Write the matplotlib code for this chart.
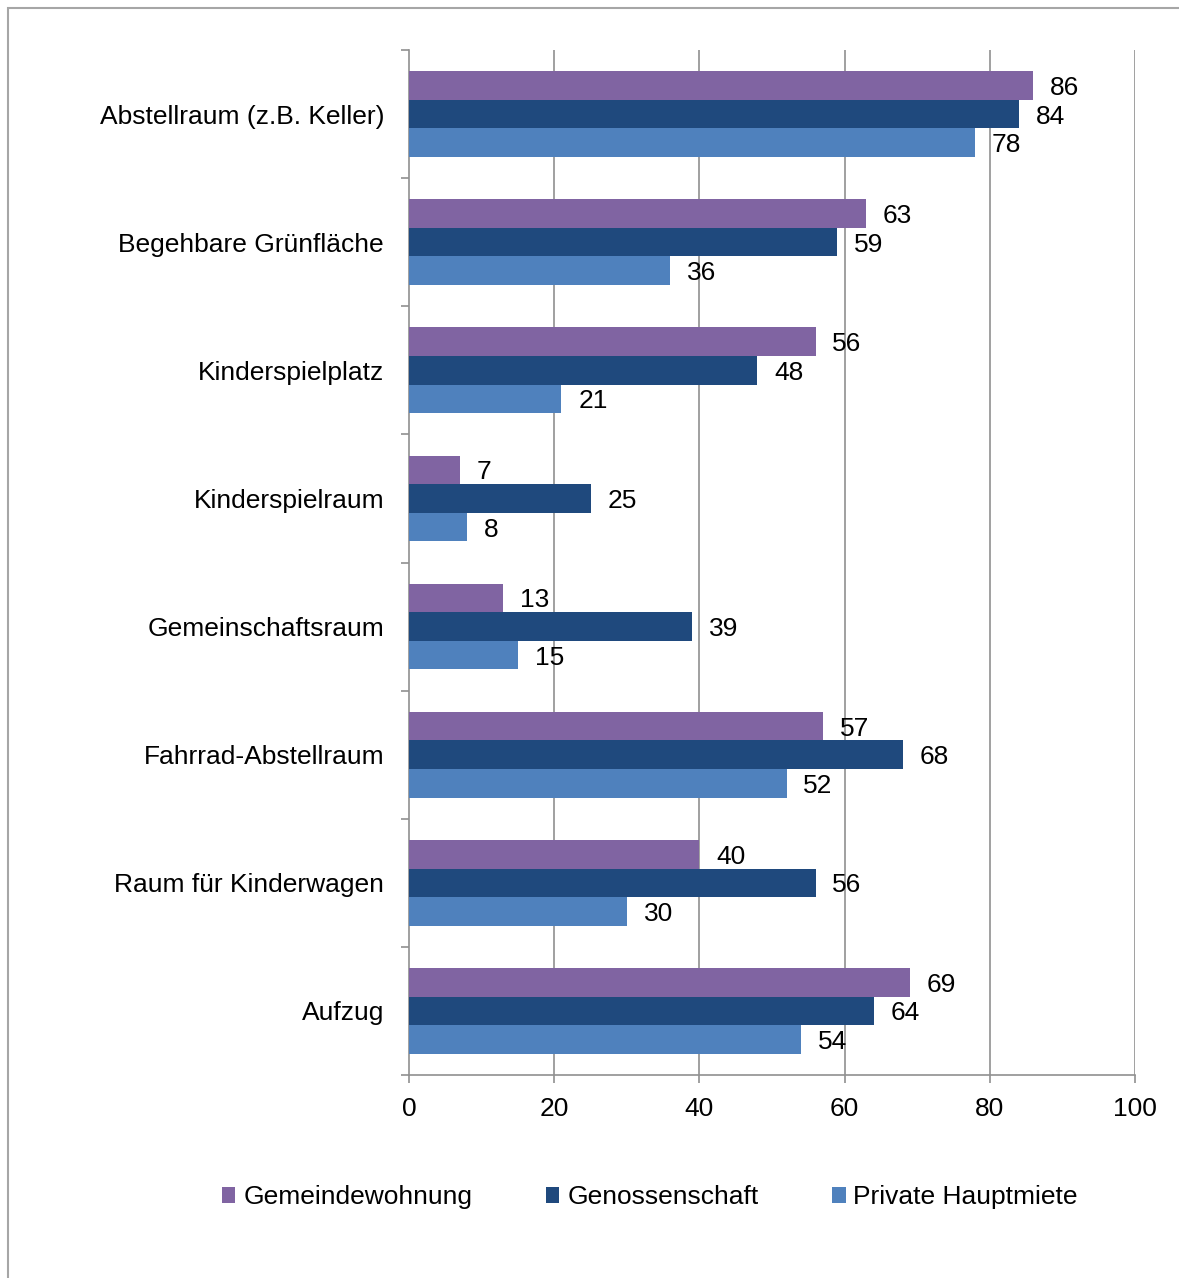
import matplotlib.pyplot as plt
import numpy as np
from matplotlib.patches import Rectangle

plt.rcParams['font.family'] = ['Liberation Sans', 'DejaVu Sans']

# data
categories = ["Abstellraum (z.B. Keller)", "Begehbare Grünfläche", "Kinderspielplatz",
              "Kinderspielraum", "Gemeinschaftsraum", "Fahrrad-Abstellraum",
              "Raum für Kinderwagen", "Aufzug"]
gemeinde = [86, 63, 56, 7, 13, 57, 40, 69]
genossen = [84, 59, 48, 25, 39, 68, 56, 64]
private = [78, 36, 21, 8, 15, 52, 30, 54]
series_names = ["Gemeindewohnung", "Genossenschaft", "Private Hauptmiete"]
colors = ["#8064A2", "#1F497D", "#4F81BD"]
xticks = [0, 20, 40, 60, 80, 100]

W, H = 1179, 1278
fs = 19
fig = plt.figure(figsize=(W / 100, H / 100), dpi=100)
ax = fig.add_axes([409 / W, (H - 1075) / H, (1135 - 409) / W, (1075 - 50) / H])

y = np.arange(len(categories))
bh = 0.223
offsets = [-bh, 0, bh]
grey = "#909090"

for vals, off, col, name in zip([gemeinde, genossen, private], offsets, colors, series_names):
    bars = ax.barh(y + off, vals, height=bh, color=col, label=name, zorder=3)
    for b, v in zip(bars, vals):
        ax.text(v + 2.3, b.get_y() + b.get_height() / 2, str(v), va='center_baseline', ha='left',
                fontsize=fs, color='black', zorder=4)

ax.set_xlim(0, 100)
ax.set_ylim(len(categories) - 0.5, -0.5)
ax.set_xticks(xticks)
ax.set_xticklabels([str(t) for t in xticks], fontsize=fs)
ax.set_yticks(y)
ax.set_yticklabels(categories, fontsize=fs)
ax.tick_params(axis='y', length=0, pad=18)
ax.set_yticks(np.arange(len(categories) + 1) - 0.5, minor=True)
ax.tick_params(axis='y', which='minor', length=6, color=grey, width=1.2)
ax.tick_params(axis='x', length=6, color=grey, width=1.2, pad=10)

for t in xticks[1:]:
    ax.axvline(t, color=grey, lw=1.2, zorder=1)

for s in ['top', 'right']:
    ax.spines[s].set_visible(False)
for s in ['left', 'bottom']:
    ax.spines[s].set_color(grey)
    ax.spines[s].set_linewidth(1.2)

fig.legend(loc='center', bbox_to_anchor=(650 / W, (H - 1197) / H), ncol=3, frameon=False,
           fontsize=fs, handlelength=0.5, handleheight=0.55, handletextpad=0.3,
           columnspacing=2.8)

fig.patches.append(Rectangle((8 / W, -0.1), 1.2, (H - 8) / H + 0.1, transform=fig.transFigure,
                             fill=False, edgecolor='#a6a6a6', lw=1.5))

fig.savefig("out.png", dpi=100)
